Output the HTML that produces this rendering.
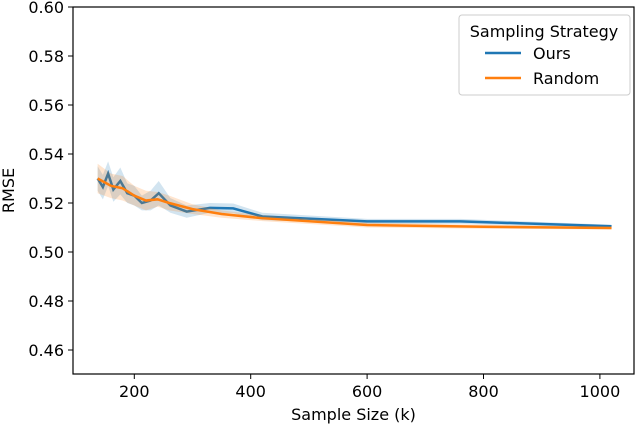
<!DOCTYPE html>
<html><head><meta charset="utf-8"><style>
body{margin:0;background:#fff;}
svg{display:block;font-family:"DejaVu Sans","Liberation Sans",sans-serif;}
</style></head><body>
<svg id="chart" width="640" height="427"></svg>
<script>
const xTicks=[200,400,600,800,1000];
const yTicks=[0.46,0.48,0.50,0.52,0.54,0.56,0.58,0.60];
const oursX=[137,146,155,164,176,188,200,213,228,242,262,290,330,370,420,600,760,1020];
const oursY=[0.530,0.5265,0.532,0.5255,0.529,0.524,0.523,0.520,0.521,0.524,0.519,0.5165,0.518,0.5178,0.5145,0.5125,0.5125,0.5105];
const oursErr=[0.005,0.005,0.005,0.005,0.0055,0.004,0.004,0.003,0.004,0.005,0.003,0.0025,0.002,0.002,0.0015,0.001,0.001,0.0006];
const randX=[137,160,180,200,220,240,260,300,350,420,600,800,1020];
const randY=[0.530,0.527,0.526,0.523,0.521,0.5215,0.520,0.5175,0.5155,0.5138,0.511,0.5103,0.5098];
const randErr=[0.006,0.005,0.005,0.004,0.004,0.003,0.003,0.002,0.0015,0.0012,0.001,0.0008,0.0006];
const L=73,R=634,T=7,B=374;
const sx=v=>134.3+(v-200)*0.582;
const sy=v=>7+(0.60-v)*2450;
const svg=document.getElementById('chart');
const NS='http://www.w3.org/2000/svg';
function mk(t,a,p){const e=document.createElementNS(NS,t);for(const k in a)e.setAttribute(k,a[k]);(p||svg).appendChild(e);return e;}
function series(xs,ys,er,color,name){
  let up=xs.map((x,i)=>sx(x)+','+sy(ys[i]+er[i]));
  let dn=xs.map((x,i)=>sx(x)+','+sy(ys[i]-er[i])).reverse();
  const band=mk('polygon',{points:up.concat(dn).join(' '),fill:color,'fill-opacity':0.2,stroke:'none'});
  
  
  const ln=mk('polyline',{points:xs.map((x,i)=>sx(x)+','+sy(ys[i])).join(' '),fill:'none',stroke:color,'stroke-width':2.5});
  
  
}
series(oursX,oursY,oursErr,'#1f77b4','ours');
series(randX,randY,randErr,'#ff7f0e','random');
const frame=mk('rect',{x:L,y:T,width:R-L,height:B-T,fill:'none',stroke:'#000','stroke-width':1.2});


xTicks.forEach(v=>{
  mk('line',{x1:sx(v),x2:sx(v),y1:B,y2:B+5,stroke:'#000'});
  const t=mk('text',{x:sx(v),y:B+23,'text-anchor':'middle','font-size':16});
  t.textContent=v;
  
  
});
yTicks.forEach(v=>{
  mk('line',{x1:L-5,x2:L,y1:sy(v),y2:sy(v),stroke:'#000'});
  const t=mk('text',{x:L-9,y:sy(v)+6,'text-anchor':'end','font-size':16});
  t.textContent=v.toFixed(2);
  
  
});
const xt=mk('text',{x:(L+R)/2,y:420,'text-anchor':'middle','font-size':16});
xt.textContent='Sample Size (k)';


const yt=mk('text',{x:14,y:(T+B)/2,'text-anchor':'middle','font-size':16,transform:'rotate(-90 14 '+((T+B)/2)+')'});
yt.textContent='RMSE';


const lg=mk('g',{});


mk('rect',{x:459,y:15,width:171,height:80,rx:3,fill:'#fff','fill-opacity':0.8,stroke:'#ccc'},lg);
const lt=mk('text',{x:544,y:37,'text-anchor':'middle','font-size':16},lg);
lt.textContent='Sampling Strategy';


[['Ours','#1f77b4',53],['Random','#ff7f0e',78]].forEach(([n,c,y])=>{
  mk('line',{x1:485,x2:521,y1:y,y2:y,stroke:c,'stroke-width':2.5},lg);
  const t=mk('text',{x:533,y:y+6,'font-size':16},lg);
  t.textContent=n;
  
  
});
</script>
</body></html>
